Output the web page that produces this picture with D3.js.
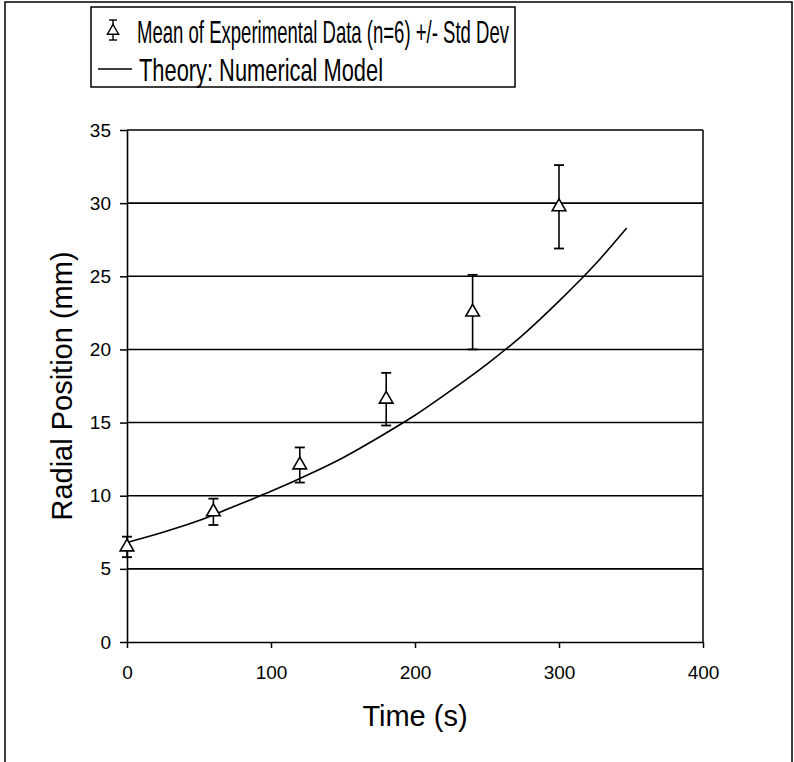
<!DOCTYPE html>
<html>
<head>
<meta charset="utf-8">
<script src="https://cdn.jsdelivr.net/npm/d3@7"></script>
<style>
  body { margin: 0; background: #fff; }
  text { font-family: "Liberation Sans", Arial, sans-serif; fill: #000; }
  .narrow { font-family: "Liberation Sans Narrow", "Liberation Sans", Arial, sans-serif; }
</style>
</head>
<body>
<svg width="794" height="762"></svg>
<script>
// experimental means +/- std dev
var times = [0, 60, 120, 180, 240, 300];
var means = [6.5, 8.9, 12.1, 16.6, 22.55, 29.75];
var sds = [0.7, 0.9, 1.2, 1.8, 2.55, 2.85];

// theory curve
var modelT = [0, 25, 50, 75, 100, 125, 150, 175, 200, 225, 250, 275, 300, 325, 347];
var modelR = [6.8, 7.5, 8.3, 9.3, 10.3, 11.4, 12.6, 14.0, 15.5, 17.2, 19.0, 21.0, 23.3, 25.8, 28.3];

var xTicks = [0, 100, 200, 300, 400];
var yTicks = [0, 5, 10, 15, 20, 25, 30, 35];

var svg = d3.select("svg");

// page frame
svg.append("rect")
  .attr("x", 5).attr("y", 2)
  .attr("width", 787).attr("height", 820)
  .attr("fill", "none").attr("stroke", "#000").attr("stroke-width", 1.5);

var x = d3.scaleLinear().domain([0, 400]).range([127, 703]);
var y = d3.scaleLinear().domain([0, 35]).range([642, 130]);

// gridlines
svg.append("g")
  .selectAll("line")
  .data(yTicks.slice(1))
  .enter().append("line")
  .attr("x1", x(0)).attr("x2", x(400))
  .attr("y1", function(d) { return y(d); })
  .attr("y2", function(d) { return y(d); })
  .attr("stroke", "#000").attr("stroke-width", 1.6);

// right border
svg.append("line")
  .attr("x1", x(400)).attr("x2", x(400))
  .attr("y1", y(35)).attr("y2", y(0))
  .attr("stroke", "#000").attr("stroke-width", 1.5);

var xAxis = svg.append("g")
  .attr("transform", "translate(0," + y(0) + ")")
  .call(d3.axisBottom(x).tickValues(xTicks).tickSize(6).tickSizeOuter(0).tickPadding(18));

var yAxis = svg.append("g")
  .attr("transform", "translate(" + x(0) + ",0)")
  .call(d3.axisLeft(y).tickValues(yTicks).tickSize(7).tickSizeOuter(0).tickPadding(9));

[xAxis, yAxis].forEach(function(a) {
  a.select(".domain").attr("stroke", "#000").attr("stroke-width", 1.6);
  a.selectAll(".tick line").attr("stroke", "#000").attr("stroke-width", 1.5);
  a.selectAll(".tick text")
    .attr("font-size", 19)
    .attr("font-family", "Liberation Sans, Arial, sans-serif")
    .attr("fill", "#000");
});

// theory line
var line = d3.line()
  .x(function(d, i) { return x(modelT[i]); })
  .y(function(d) { return y(d); })
  .curve(d3.curveMonotoneX);

svg.append("path")
  .datum(modelR)
  .attr("d", line)
  .attr("fill", "none")
  .attr("stroke", "#000")
  .attr("stroke-width", 1.6);

// error bars + triangles
var pts = svg.append("g").selectAll("g")
  .data(times)
  .enter().append("g");

pts.append("line")
  .attr("x1", function(d) { return x(d); })
  .attr("x2", function(d) { return x(d); })
  .attr("y1", function(d, i) { return y(means[i] + sds[i]); })
  .attr("y2", function(d, i) { return y(means[i] - sds[i]); })
  .attr("stroke", "#000").attr("stroke-width", 1.6);

[1, -1].forEach(function(s) {
  pts.append("line")
    .attr("x1", function(d) { return x(d) - 5; })
    .attr("x2", function(d) { return x(d) + 5; })
    .attr("y1", function(d, i) { return y(means[i] + s * sds[i]); })
    .attr("y2", function(d, i) { return y(means[i] + s * sds[i]); })
    .attr("stroke", "#000").attr("stroke-width", 1.8);
});

var tri = d3.symbol().type(d3.symbolTriangle).size(80);

pts.append("path")
  .attr("d", tri)
  .attr("transform", function(d, i) { return "translate(" + x(d) + "," + y(means[i]) + ")"; })
  .attr("fill", "#fff")
  .attr("stroke", "#000").attr("stroke-width", 1.6);

// axis titles
svg.append("text")
  .attr("x", x(200)).attr("y", 726)
  .attr("text-anchor", "middle")
  .attr("font-size", 29)
  .text("Time (s)");

svg.append("text")
  .attr("transform", "translate(72," + y(17.5) + ") rotate(-90)")
  .attr("text-anchor", "middle")
  .attr("font-size", 29)
  .text("Radial Position (mm)");

// legend
var leg = svg.append("g");
leg.append("rect")
  .attr("x", 91).attr("y", 7)
  .attr("width", 424).attr("height", 80)
  .attr("fill", "#fff").attr("stroke", "#000").attr("stroke-width", 1.5);

leg.append("line")
  .attr("x1", 113).attr("x2", 113).attr("y1", 20).attr("y2", 40)
  .attr("stroke", "#000").attr("stroke-width", 1.4);
[20, 40].forEach(function(yy) {
  leg.append("line")
    .attr("x1", 109).attr("x2", 117).attr("y1", yy).attr("y2", yy)
    .attr("stroke", "#000").attr("stroke-width", 1.4);
});
leg.append("path")
  .attr("d", d3.symbol().type(d3.symbolTriangle).size(55))
  .attr("transform", "translate(113,31)")
  .attr("fill", "#fff").attr("stroke", "#000").attr("stroke-width", 1.4);

leg.append("text")
  .attr("class", "narrow")
  .attr("x", 137).attr("y", 43)
  .attr("font-size", 32)
  .attr("textLength", 372).attr("lengthAdjust", "spacingAndGlyphs")
  .text("Mean of Experimental Data (n=6) +/- Std Dev");

leg.append("line")
  .attr("x1", 98).attr("x2", 132).attr("y1", 69).attr("y2", 69)
  .attr("stroke", "#000").attr("stroke-width", 1.5);

leg.append("text")
  .attr("class", "narrow")
  .attr("x", 139).attr("y", 81)
  .attr("font-size", 32)
  .attr("textLength", 244).attr("lengthAdjust", "spacingAndGlyphs")
  .text("Theory: Numerical Model");
</script>
</body>
</html>
